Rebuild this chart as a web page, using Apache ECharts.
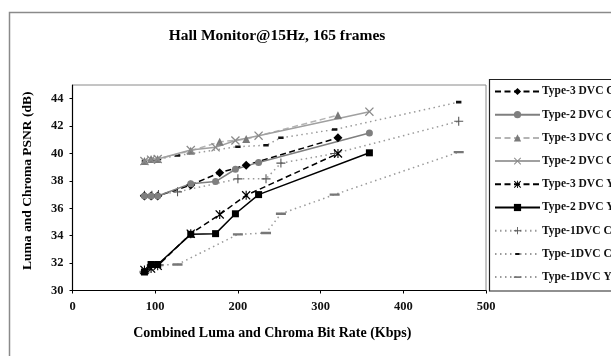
<!DOCTYPE html>
<html>
<head>
<meta charset="utf-8">
<script src="https://cdn.jsdelivr.net/npm/echarts@6/dist/echarts.min.js"></script>
<style>
  html, body { margin: 0; padding: 0; background: #fff; }
  #chart { width: 611px; height: 356px; }
</style>
</head>
<body>
<div id="chart"></div>
<script>
// Hall Monitor @15Hz, 165 frames — PSNR vs. combined bit rate for three DVC types

const titleText = 'Hall Monitor@15Hz, 165 frames';
const xName = 'Combined Luma and Chroma Bit Rate (Kbps)';
const yName = 'Luma and Chroma PSNR (dB)';

const xTicks = [0, 100, 200, 300, 400, 500];
const yTicks = [30, 32, 34, 36, 38, 40, 42, 44];

// bit rates (Kbps) for each coder type
const rateType3 = [87, 95, 103, 143, 178, 210, 321];
const rateType2 = [87, 95, 103, 143, 173, 197, 225, 359];
const rateType1 = [87, 96, 104, 127, 200, 234, 252, 317, 467];

// PSNR (dB)
const type3Cb = [36.9, 36.9, 36.9, 37.7, 38.6, 39.15, 41.15];
const type2Cb = [36.9, 36.9, 36.9, 37.8, 37.95, 38.85, 39.35, 41.5];
const type3Cr = [39.45, 39.6, 39.6, 40.2, 40.85, 41.05, 42.8];
const type2Cr = [39.45, 39.55, 39.6, 40.25, 40.45, 40.95, 41.3, 43.05];
const type3Y  = [31.5, 31.6, 31.8, 34.15, 35.55, 36.95, 40.0];
const type2Y  = [31.35, 31.9, 31.9, 34.1, 34.15, 35.6, 37.0, 40.05];
const type1Cb = [36.95, 36.95, 37.0, 37.2, 38.15, 38.15, 39.3, 40.0, 42.35];
const type1Cr = [39.45, 39.55, 39.6, 39.85, 40.5, 40.6, 41.15, 41.75, 43.75];
const type1Y  = [31.35, 31.8, 31.85, 31.9, 34.1, 34.2, 35.6, 37.0, 40.1];

const seriesNames = [
  'Type-3 DVC Cb', 'Type-2 DVC Cb', 'Type-3 DVC Cr', 'Type-2 DVC Cr',
  'Type-3 DVC Y', 'Type-2 DVC Y', 'Type-1DVC Cb', 'Type-1DVC Cr', 'Type-1DVC Y'
];

// marker shapes (empty sub-paths at the corners keep the 10x10 box)
const SYM_X = 'path://M0,1L1,0L5,4L9,0L10,1L6,5L10,9L9,10L5,6L1,10L0,9L4,5Z';
const SYM_STAR = 'path://M0,1L1,0L5,4L9,0L10,1L6,5L10,9L9,10L5,6L1,10L0,9L4,5ZM4.4,0H5.6V10H4.4Z';
const SYM_PLUS = 'path://M4.4,0H5.6V4.4H10V5.6H5.6V10H4.4V5.6H0V4.4H4.4Z';
const SYM_SHORT_DASH = 'path://M0,0L0,0ZM10,10L10,10ZM2,3.6H8V6.4H2Z';
const SYM_LONG_DASH = 'path://M0,0L0,0ZM10,10L10,10ZM0,3.8H10V6.2H0Z';

const SERIF = '"Liberation Serif", "DejaVu Serif", serif';

function pairs(xs, ys) { return xs.map((x, i) => [x, ys[i]]); }

function line(name, xs, ys, o) {
  return {
    name: name,
    type: 'line',
    data: pairs(xs, ys),
    symbol: o.symbol,
    symbolSize: o.size,
    showAllSymbol: true,
    lineStyle: { color: o.lineColor, width: o.width || 1.5, type: o.dash || 'solid' },
    itemStyle: { color: o.markColor },
    emphasis: { disabled: true },
    z: o.z || 2,
    animation: false
  };
}

const series = [
  line(seriesNames[0], rateType3, type3Cb, { symbol: 'diamond', size: 9, lineColor: '#000', markColor: '#000', dash: [6, 3.5] }),
  line(seriesNames[1], rateType2, type2Cb, { symbol: 'circle', size: 7, lineColor: '#7f7f7f', markColor: '#7f7f7f' }),
  line(seriesNames[2], rateType3, type3Cr, { symbol: 'triangle', size: 8, lineColor: '#b4b4b4', markColor: '#7a7a7a', dash: [6, 3.5] }),
  line(seriesNames[3], rateType2, type2Cr, { symbol: SYM_X, size: 9, lineColor: '#a0a0a0', markColor: '#8a8a8a' }),
  line(seriesNames[4], rateType3, type3Y, { symbol: SYM_STAR, size: 9, lineColor: '#000', markColor: '#000', dash: [6, 3.5] }),
  line(seriesNames[5], rateType2, type2Y, { symbol: 'rect', size: 7, lineColor: '#000', markColor: '#000' }),
  line(seriesNames[6], rateType1, type1Cb, { symbol: SYM_PLUS, size: 9, lineColor: '#999', markColor: '#555', dash: [1.5, 3.5], z: 1 }),
  line(seriesNames[7], rateType1, type1Cr, { symbol: SYM_SHORT_DASH, size: 9, lineColor: '#999', markColor: '#111', dash: [1.5, 3.5], z: 1 }),
  line(seriesNames[8], rateType1, type1Y, { symbol: SYM_LONG_DASH, size: 10, lineColor: '#999', markColor: '#777', dash: [1.5, 3.5], z: 1 })
];

const chart = echarts.init(document.getElementById('chart'), null, { renderer: 'canvas' });

chart.setOption({
  backgroundColor: '#fff',
  animation: false,
  title: {
    text: titleText,
    left: 272,
    top: 23,
    textAlign: 'center',
    textStyle: { fontFamily: SERIF, fontWeight: 'bold', fontSize: 15.5, color: '#000' }
  },
  grid: {
    left: 72.5, right: 125, top: 85, bottom: 65.5,
    show: true, borderColor: '#8a8a8a', borderWidth: 1, backgroundColor: 'transparent'
  },
  legend: {
    orient: 'vertical',
    left: 494,
    top: 85.5,
    itemWidth: 45,
    itemHeight: 9,
    itemGap: 11.2,
    padding: 0,
    data: seriesNames,
    textStyle: { fontFamily: SERIF, fontSize: 11.5, fontWeight: 'bold', color: '#111', padding: [0, 0, 0, -3] },
    selectedMode: false
  },
  xAxis: {
    type: 'value',
    min: xTicks[0],
    max: xTicks[xTicks.length - 1],
    interval: 100,
    name: xName,
    nameLocation: 'middle',
    nameGap: 36,
    nameTextStyle: { fontFamily: SERIF, fontWeight: 'bold', fontSize: 14, color: '#000', padding: [0, 14, 0, 0] },
    axisLine: { lineStyle: { color: '#000', width: 1.2 } },
    axisTick: { show: true, length: 3, lineStyle: { color: '#000' } },
    axisLabel: { fontFamily: SERIF, fontWeight: 'bold', fontSize: 12.5, color: '#111', margin: 10 },
    splitLine: { show: false }
  },
  yAxis: {
    type: 'value',
    min: yTicks[0],
    max: 45,
    interval: 2,
    name: yName,
    nameLocation: 'middle',
    nameGap: 38,
    nameRotate: 90,
    nameTextStyle: { fontFamily: SERIF, fontWeight: 'bold', fontSize: 13.5, color: '#000', padding: [0, 0, 0, 14] },
    axisLine: { lineStyle: { color: '#000', width: 1.2 } },
    axisTick: { show: true, length: 3, lineStyle: { color: '#000' } },
    axisLabel: {
      fontFamily: SERIF, fontWeight: 'bold', fontSize: 12.5, color: '#111', margin: 9,
      showMaxLabel: false
    },
    splitLine: { show: false }
  },
  graphic: [
    {
      type: 'rect', silent: true, z: -1,
      shape: { x: 9.5, y: 12.5, width: 700, height: 400 },
      style: { fill: null, stroke: '#8a8a8a', lineWidth: 1.5 }
    },
    {
      type: 'rect', silent: true,
      shape: { x: 489.5, y: 79.5, width: 200, height: 211.5 },
      style: { fill: null, stroke: '#222', lineWidth: 1.2 }
    }
  ],
  series: series
});
</script>
</body>
</html>
